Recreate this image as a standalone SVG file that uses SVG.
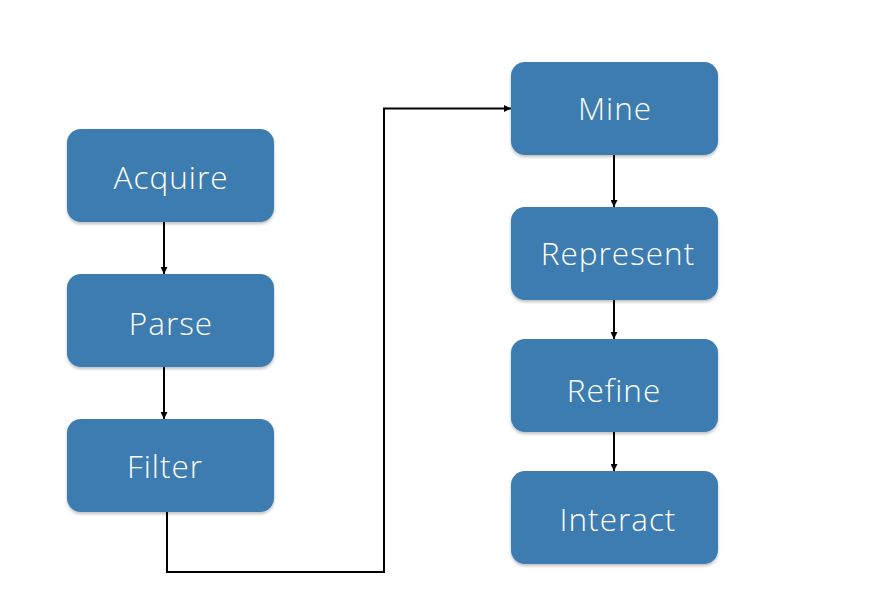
<svg xmlns="http://www.w3.org/2000/svg" width="885" height="606" viewBox="0 0 885 606">
<style>
.box{fill:#3e7bb1;filter:url(#sh)}
.lbl{font-family:"Open Sans",Lato,"Liberation Sans",sans-serif;font-weight:300;font-size:31.5px;letter-spacing:1px;fill:#ffffff;text-anchor:middle;dominant-baseline:central}
.con{fill:none;stroke:#000;stroke-width:2}
</style>
<defs>
<filter id="sh" x="-10%" y="-10%" width="120%" height="130%">
<feDropShadow dx="0" dy="2" stdDeviation="1.5" flood-color="#000" flood-opacity="0.25"/>
</filter>
<marker id="ah" viewBox="0 0 10 10" refX="10" refY="5" markerWidth="7" markerHeight="7" orient="auto" markerUnits="userSpaceOnUse">
<path d="M0,0 L10,5 L0,10 z" fill="#000"/>
</marker>
</defs>
<rect width="885" height="606" fill="#fff"/>
<g id="connectors">
<line class="con" x1="164" y1="222" x2="164" y2="274" marker-end="url(#ah)"/>
<line class="con" x1="164" y1="367" x2="164" y2="419" marker-end="url(#ah)"/>
<polyline class="con" points="167,512 167,572 384,572 384,108.5 511,108.5" marker-end="url(#ah)"/>
<line class="con" x1="614" y1="155" x2="614" y2="207" marker-end="url(#ah)"/>
<line class="con" x1="614" y1="300" x2="614" y2="339" marker-end="url(#ah)"/>
<line class="con" x1="614" y1="432" x2="614" y2="471" marker-end="url(#ah)"/>
</g>
<g id="acquire"><rect class="box" x="67" y="129" width="207" height="93" rx="14"/><text class="lbl" x="171" y="176">Acquire</text></g>
<g id="parse"><rect class="box" x="67" y="274" width="207" height="93" rx="14"/><text class="lbl" x="171" y="322">Parse</text></g>
<g id="filter"><rect class="box" x="67" y="419" width="207" height="93" rx="14"/><text class="lbl" x="165" y="465">Filter</text></g>
<g id="mine"><rect class="box" x="511" y="62" width="207" height="93" rx="14"/><text class="lbl" x="615" y="107">Mine</text></g>
<g id="represent"><rect class="box" x="511" y="207" width="207" height="93" rx="14"/><text class="lbl" x="618" y="252">Represent</text></g>
<g id="refine"><rect class="box" x="511" y="339" width="207" height="93" rx="14"/><text class="lbl" x="614" y="389">Refine</text></g>
<g id="interact"><rect class="box" x="511" y="471" width="207" height="93" rx="14"/><text class="lbl" x="618" y="518">Interact</text></g>
</svg>
